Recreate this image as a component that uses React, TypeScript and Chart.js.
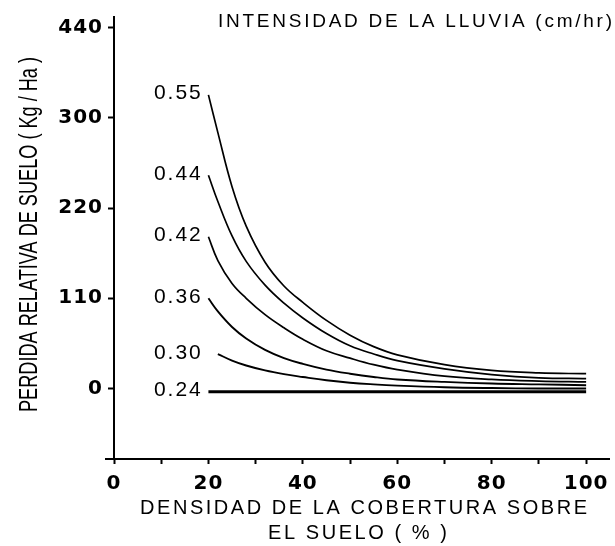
import React, { useEffect, useRef } from "react";
import { Chart, registerables } from "chart.js";

Chart.register(...registerables);

// Cobertura del suelo (%)
const xValues = [20, 22, 25, 28, 32, 36, 40, 45, 50, 55, 60, 70, 80, 90, 100];

// Intensidad de la lluvia (cm/hr)
const intensityLabels = ["0.55", "0.44", "0.42", "0.36", "0.30", "0.24"];

// Pérdida relativa de suelo (Kg/Ha)
const loss055 = [358, 312, 246, 198, 154, 125, 105, 83, 65, 51, 41, 29, 22, 19, 18];
const loss044 = [260, 228, 186, 155, 126, 104, 86, 67, 52, 42, 34, 24, 17, 13, 12];
const loss042 = [185, 156, 128, 110, 90, 74, 60, 46, 37, 29, 23, 15, 11, 9, 8];
const loss036 = [110, 94, 75, 61, 47, 37, 30, 23, 18, 14, 11, 8, 6, 5, 4];
const loss030 = [null, 42, 34, 28, 22, 17.5, 14, 10, 7, 5, 3.5, 1.5, 0.5, 0, 0];
const loss024 = [-4, -4, -4, -4, -4, -4, -4, -4, -4, -4, -4, -4, -4, -4, -4];

const seriesList = [loss055, loss044, loss042, loss036, loss030, loss024];
const lineWidths = [1.7, 1.7, 1.7, 1.9, 1.9, 2.8];

const yTickValues = [0, 110, 220, 330, 440];
const yTickLabels = ["0", "110", "220", "300", "440"];
const xTickValues = [0, 10, 20, 30, 40, 50, 60, 70, 80, 90, 100];
const xTickLabels = ["0", "", "20", "", "40", "", "60", "", "80", "", "100"];

const titleTop = "INTENSIDAD DE LA LLUVIA (cm/hr)";
const yTitle = "PERDIDA RELATIVA DE SUELO ( Kg / Ha )";
const xTitle1 = "DENSIDAD DE LA COBERTURA SOBRE";
const xTitle2 = "EL SUELO ( % )";

const FONT = "'Liberation Sans', Arial, Helvetica, sans-serif";
const TICK_FONT = "'DejaVu Sans', 'Liberation Sans', sans-serif";

function drawSpaced(
  ctx: CanvasRenderingContext2D,
  text: string,
  x: number,
  y: number,
  width: number,
  font: string
) {
  ctx.save();
  ctx.font = font;
  (ctx as any).letterSpacing = "0px";
  const w = ctx.measureText(text).width;
  const sp = (width - w) / Math.max(1, text.length - 1);
  (ctx as any).letterSpacing = sp + "px";
  ctx.textAlign = "left";
  ctx.textBaseline = "alphabetic";
  ctx.fillStyle = "#000";
  ctx.fillText(text, x, y);
  ctx.restore();
}

const textPlugin = {
  id: "textPlugin",
  beforeDraw(chart: any) {
    (chart.ctx as any).letterSpacing = "1px";
  },
  afterDraw(chart: any) {
    const ctx: CanvasRenderingContext2D = chart.ctx;
    const xs = chart.scales.x;
    const ys = chart.scales.y;
    const area = chart.chartArea;

    // small overshoot of the x axis line to the left
    ctx.save();
    ctx.strokeStyle = "#000";
    ctx.lineWidth = 2;
    ctx.beginPath();
    ctx.moveTo(area.left - 9, area.bottom);
    ctx.lineTo(area.left, area.bottom);
    ctx.stroke();
    ctx.restore();

    // Curve labels
    ctx.save();
    ctx.font = "21px " + FONT;
    (ctx as any).letterSpacing = "2px";
    ctx.fillStyle = "#000";
    ctx.textAlign = "right";
    ctx.textBaseline = "alphabetic";
    chart.data.datasets.forEach((ds: any, i: number) => {
      const first = ds.data.find((p: any) => p.y !== null);
      const py = ys.getPixelForValue(first.y);
      ctx.fillText(intensityLabels[i], xs.getPixelForValue(18.8), py + 4.5);
    });
    ctx.restore();

    // Top title
    drawSpaced(ctx, titleTop, 218, 27, 394, "19px " + FONT);

    // X title
    drawSpaced(ctx, xTitle1, 140, 514, 447, "20px " + FONT);
    drawSpaced(ctx, xTitle2, 268, 539, 179, "20px " + FONT);

    // Y title (rotated, condensed)
    ctx.save();
    ctx.font = "26px " + FONT;
    (ctx as any).letterSpacing = "0px";
    const w = ctx.measureText(yTitle).width;
    ctx.translate(37, 234.5);
    ctx.rotate(-Math.PI / 2);
    ctx.scale(355 / w, 1);
    ctx.fillStyle = "#000";
    ctx.textAlign = "center";
    ctx.textBaseline = "alphabetic";
    ctx.fillText(yTitle, 0, 0);
    ctx.restore();
  },
};

export default function App() {
  const canvasRef = useRef<HTMLCanvasElement | null>(null);

  useEffect(() => {
    if (!canvasRef.current) return;
    const datasets = seriesList.map((vals, i) => ({
      label: intensityLabels[i],
      data: xValues.map((x, j) => ({ x, y: vals[j] })),
      borderColor: "#000",
      backgroundColor: "#000",
      borderWidth: lineWidths[i],
      pointRadius: 0,
      showLine: true,
      fill: false,
      tension: 0.4,
      spanGaps: false,
    }));

    const chart = new Chart(canvasRef.current, {
      type: "scatter",
      data: { datasets },
      options: {
        animation: false,
        responsive: true,
        maintainAspectRatio: false,
        devicePixelRatio: 1,
        layout: { padding: { top: 8, right: 0, left: 0, bottom: 0 } },
        plugins: {
          legend: { display: false },
          tooltip: { enabled: false },
          title: { display: false },
        },
        scales: {
          x: {
            type: "linear",
            min: 0,
            max: 105,
            afterBuildTicks: (scale: any) => {
              scale.ticks = xTickValues.map((v) => ({ value: v }));
            },
            afterFit: (scale: any) => {
              scale.height = 87;
            },
            ticks: {
              autoSkip: false,
              maxRotation: 0,
              padding: 8,
              color: "#000",
              font: { family: TICK_FONT, size: 20, weight: "bold" },
              callback: (_v: any, i: number) => xTickLabels[i],
            },
            grid: {
              drawOnChartArea: false,
              drawTicks: true,
              tickLength: 5,
              tickColor: "#000",
              tickWidth: 2,
            },
            border: { display: true, color: "#000", width: 2 },
          },
          y: {
            type: "linear",
            min: -86,
            max: 453,
            afterBuildTicks: (scale: any) => {
              scale.ticks = yTickValues.map((v) => ({ value: v }));
            },
            afterFit: (scale: any) => {
              scale.width = 114;
            },
            ticks: {
              autoSkip: false,
              padding: 5,
              color: "#000",
              font: { family: TICK_FONT, size: 20, weight: "bold" },
              callback: (_v: any, i: number) => yTickLabels[i],
            },
            grid: {
              drawOnChartArea: false,
              drawTicks: true,
              tickLength: 6,
              tickColor: "#000",
              tickWidth: 2,
            },
            border: { display: true, color: "#000", width: 2 },
          },
        },
      },
      plugins: [textPlugin],
    });
    return () => chart.destroy();
  }, []);

  return (
    <div
      style={{
        position: "fixed",
        left: 0,
        top: 0,
        width: 615,
        height: 546,
        background: "#fff",
      }}
    >
      <canvas ref={canvasRef} />
    </div>
  );
}
